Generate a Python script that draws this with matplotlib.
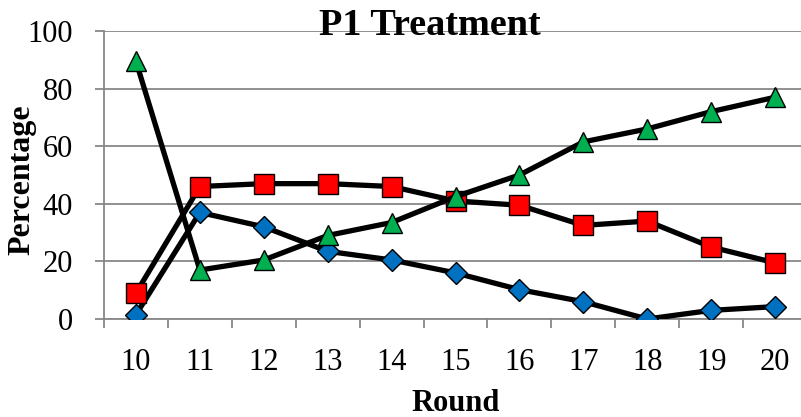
import matplotlib
matplotlib.use('Agg')
import matplotlib.pyplot as plt
import numpy as np

plt.rcParams['font.family'] = ['Liberation Serif', 'DejaVu Serif']
plt.rcParams['xtick.major.pad'] = 21
plt.rcParams['ytick.major.pad'] = 16

rounds = ['10', '11', '12', '13', '14', '15', '16', '17', '18', '19', '20']
blue = [1.5, 37, 32, 23.5, 20.5, 16, 10.2, 6, 0, 3, 4.3]
red = [9, 46, 47, 47, 46, 41, 39.5, 32.5, 34, 25, 19.5]
green = [89.5, 17, 20.5, 29, 33.5, 42.5, 50, 61.5, 66, 72, 77]

fig = plt.figure(figsize=(8.01, 4.17), dpi=100)
ax = fig.add_axes([104 / 801, 98 / 417, 703 / 801, 288 / 417])

x = np.arange(len(rounds))
ax.plot(x, blue, color='black', lw=3.8, marker='D', ms=11,
        mfc='#0070C0', mec='black', mew=1.0, zorder=3)
ax.plot(x, red, color='black', lw=3.8, marker='s', ms=14.5,
        mfc='#FF0000', mec='black', mew=1.0, zorder=3)
ax.plot(x, green, color='black', lw=3.8, marker='^', ms=15,
        mfc='#00B050', mec='black', mew=1.0, zorder=3)

ax.set_xlim(-0.5, 10.5)
ax.set_ylim(0, 100)
ax.set_yticks(range(0, 101, 20))
ax.set_xticks(x)
ax.set_xticklabels(rounds)
ax.set_xticks(np.arange(-0.5, 10.6, 1), minor=True)

ax.grid(axis='y', color='#888888', lw=1.3)
ax.set_axisbelow(True)
for s in ['top', 'right']:
    ax.spines[s].set_visible(False)
for s in ['left', 'bottom']:
    ax.spines[s].set_color('#888888')
    ax.spines[s].set_linewidth(1.3)

ax.tick_params(axis='y', length=6.5, width=1.3, color='#888888', labelsize=22)
ax.tick_params(axis='x', which='major', length=0, labelsize=22)
ax.tick_params(axis='x', which='minor', length=6.5, width=1.3, color='#888888')

fig.text(456 / 801, 1 - 411 / 417, 'Round', fontsize=22, fontweight='bold',
         ha='center', va='baseline')
fig.text(22 / 801, 1 - 180 / 417, 'Percentage', fontsize=23, fontweight='bold',
         ha='center', va='center', rotation=90)
fig.text(430 / 801, 1 - 35 / 417, 'P1 Treatment', fontsize=27.5, fontweight='bold',
         ha='center', va='baseline')

fig.savefig('out.png', dpi=100)
